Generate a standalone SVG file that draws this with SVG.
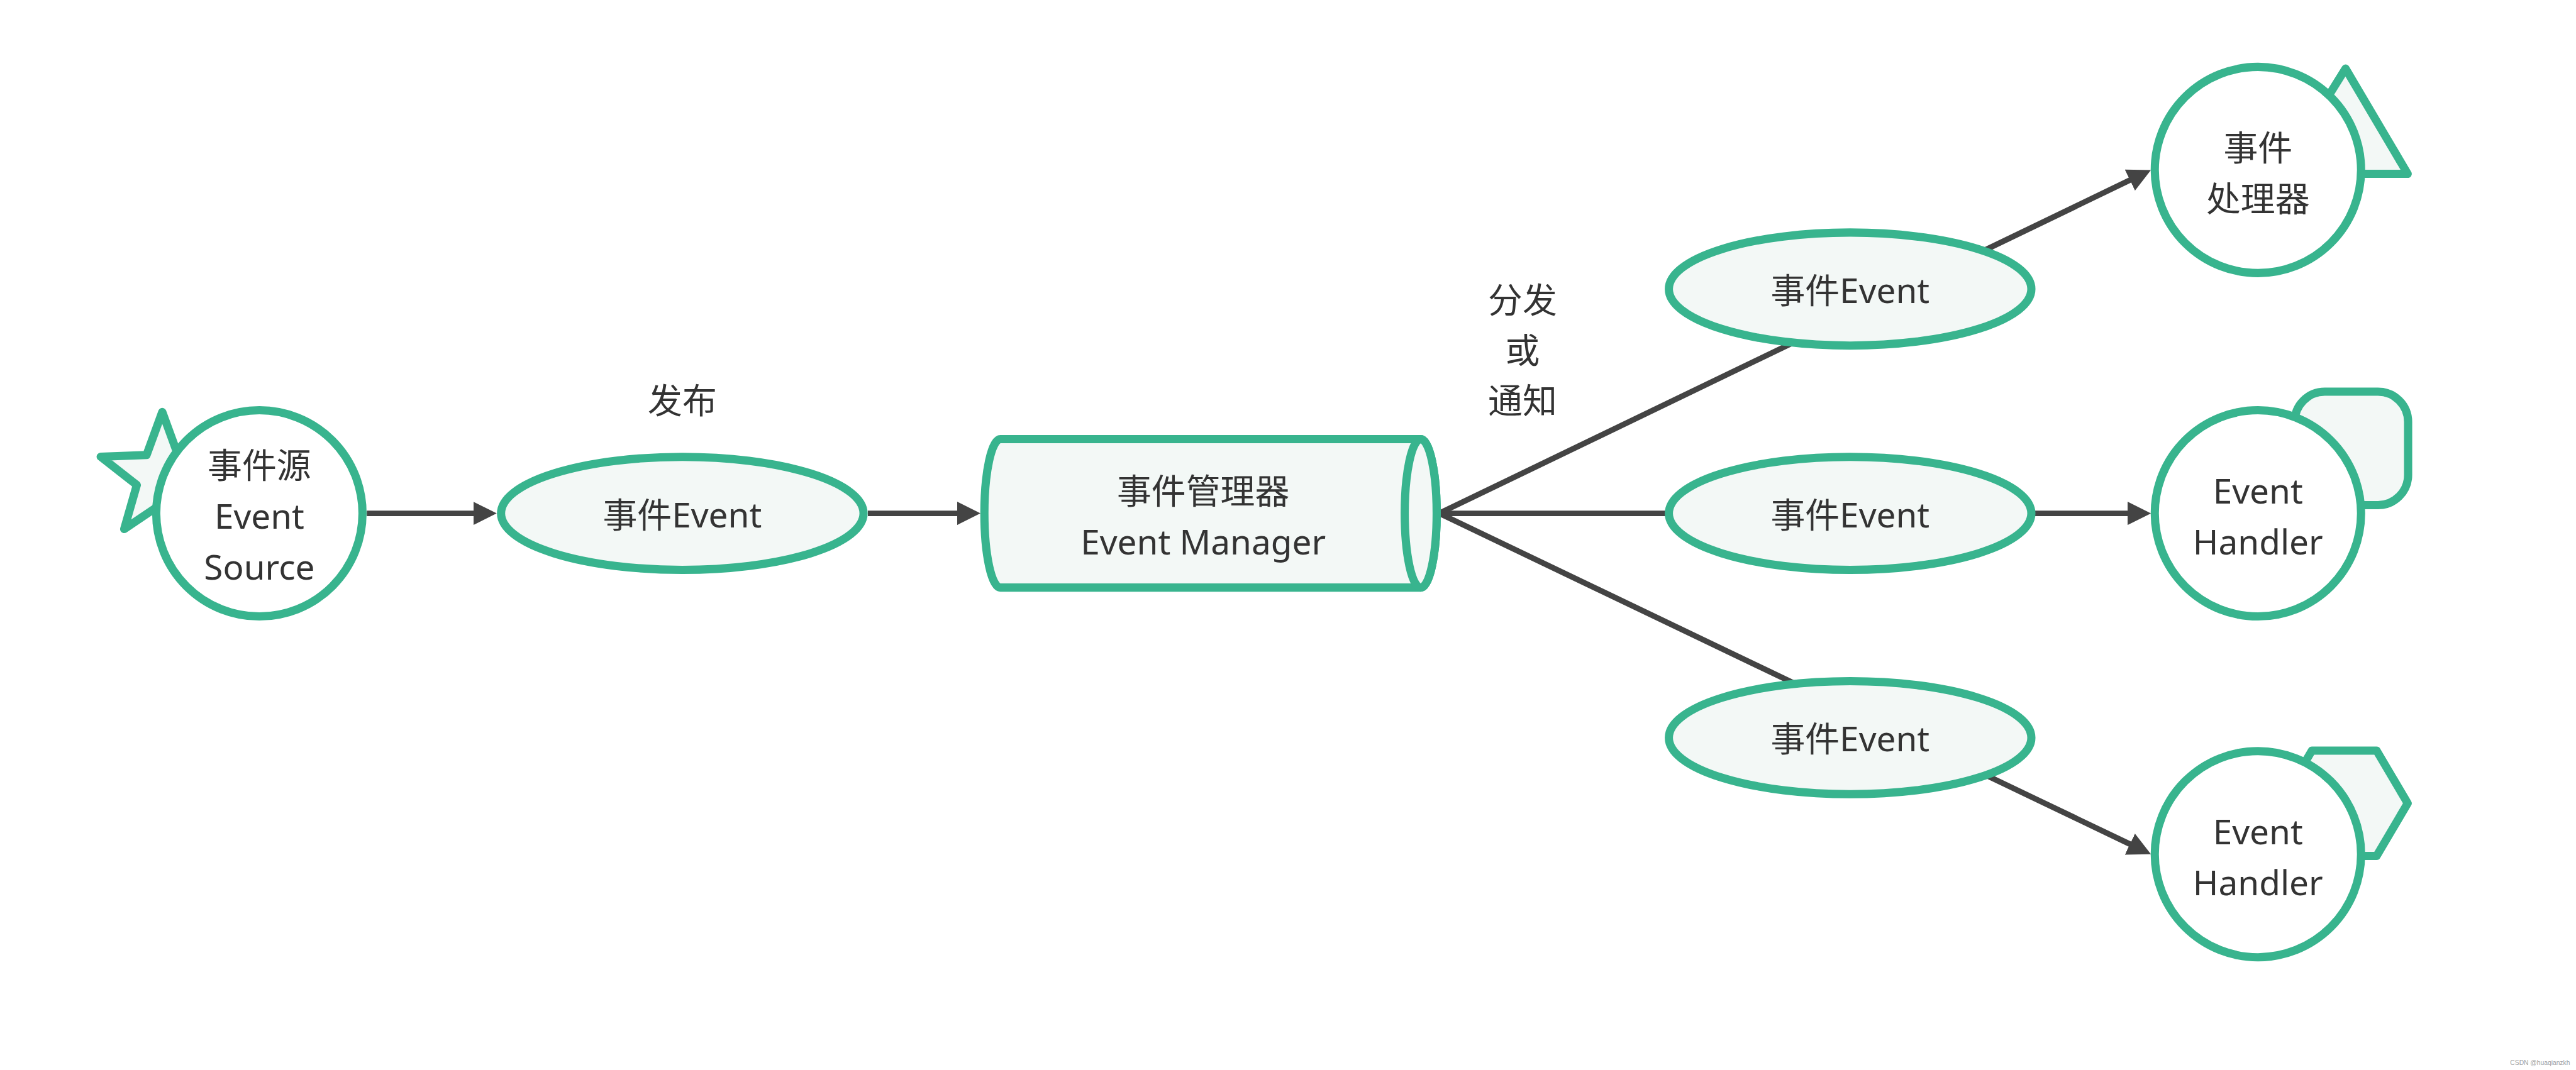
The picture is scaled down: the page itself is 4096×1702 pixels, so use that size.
<svg xmlns="http://www.w3.org/2000/svg" width="4096" height="1702" viewBox="0 0 4096 1702">
<defs>
<style>
.n{fill:#ffffff;stroke:#38b48e;stroke-width:19}
.l{fill:#f3f8f6;stroke:#38b48e;stroke-width:19;stroke-linejoin:round}
.t{font-family:"Noto Sans","Noto Sans CJK SC",sans-serif;font-size:80px;fill:#333333;text-anchor:middle}
.c{stroke:#444444;stroke-width:13;fill:none;marker-end:url(#a)}
.w{font-family:"Liberation Sans",Arial,sans-serif;font-size:15px;fill:#a0a0a0;text-anchor:end}
</style>
<marker id="a" markerUnits="userSpaceOnUse" markerWidth="54" markerHeight="54" viewBox="0 0 54 54" refX="4" refY="27" orient="auto"><path d="M0,0 L54,27 L0,54 Z" fill="#444444"/></marker>
</defs>
<rect width="4096" height="1702" fill="#ffffff"/>
<g transform="scale(0.68621)">
<g id="connectors">
<line class="c" x1="850" y1="1190" x2="1101" y2="1190"/>
<line class="c" x1="2011" y1="1190" x2="2222" y2="1190"/>
<line class="c" x1="3335" y1="1190" x2="4939" y2="415.8"/>
<line class="c" x1="3335" y1="1190" x2="4934" y2="1190"/>
<line class="c" x1="3335" y1="1190" x2="4939" y2="1958.4"/>
</g>
<g id="event-source">
<polygon class="l" points="376,955 412.4,1054.8 518.7,1058.6 435,1124.2 464.2,1226.4 376,1167 287.8,1226.4 317,1124.2 233.3,1058.6 339.6,1054.8"/>
<circle class="n" cx="601" cy="1190" r="239"/>
<text class="t" x="601" y="1108">事件源</text>
<text class="t" x="601" y="1226">Event</text>
<text class="t" x="601" y="1344">Source</text>
</g>
<g id="label-publish">
<text class="t" x="1581" y="958">发布</text>
</g>
<g id="event-1">
<ellipse class="l" cx="1581" cy="1190" rx="420" ry="131"/>
<text class="t" x="1581" y="1222">事件Event</text>
</g>
<g id="event-manager">
<path class="l" d="M2318,1018 L3292,1018 A37,172 0 0 1 3292,1362 L2318,1362 A37,172 0 0 1 2318,1018 Z"/>
<ellipse class="l" cx="3292" cy="1190" rx="37" ry="172"/>
<text class="t" x="2788" y="1167">事件管理器</text>
<text class="t" x="2788" y="1285">Event Manager</text>
</g>
<g id="label-dispatch">
<text class="t" x="3528" y="724">分发</text>
<text class="t" x="3528" y="841">或</text>
<text class="t" x="3528" y="958">通知</text>
</g>
<g id="event-2">
<ellipse class="l" cx="4287" cy="670" rx="420" ry="131"/>
<text class="t" x="4287" y="702">事件Event</text>
</g>
<g id="event-3">
<ellipse class="l" cx="4287" cy="1190" rx="420" ry="131"/>
<text class="t" x="4287" y="1222">事件Event</text>
</g>
<g id="event-4">
<ellipse class="l" cx="4287" cy="1710" rx="420" ry="131"/>
<text class="t" x="4287" y="1742">事件Event</text>
</g>
<g id="handler-1">
<polygon class="l" points="5435,159 5579,403 5283,403"/>
<circle class="n" cx="5232" cy="394" r="239"/>
<text class="t" x="5232" y="371">事件</text>
<text class="t" x="5232" y="489">处理器</text>
</g>
<g id="handler-2">
<rect class="l" x="5317" y="908" width="263" height="263" rx="70" ry="70"/>
<circle class="n" cx="5232" cy="1190" r="239"/>
<text class="t" x="5232" y="1167">Event</text>
<text class="t" x="5232" y="1285">Handler</text>
</g>
<g id="handler-3">
<polygon class="l" points="5357,1740 5507,1740 5579,1862 5507,1984 5357,1984 5285,1862"/>
<circle class="n" cx="5232" cy="1980" r="239"/>
<text class="t" x="5232" y="1957">Event</text>
<text class="t" x="5232" y="2075">Handler</text>
</g>
<text class="w" x="5955" y="2468">CSDN @huaqianzkh</text>
</g>
</svg>
